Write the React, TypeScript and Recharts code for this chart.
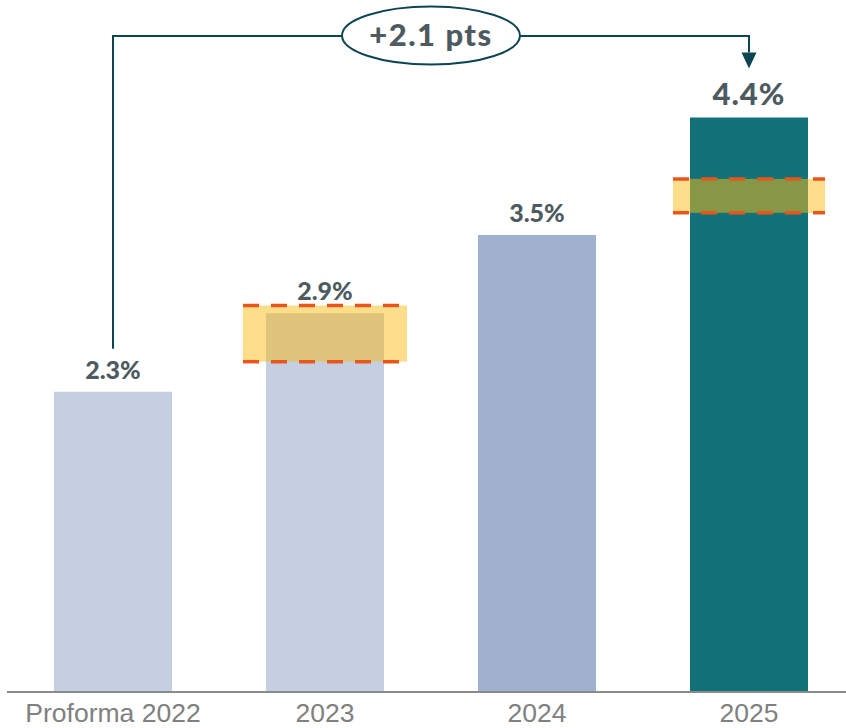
import { BarChart, Bar, XAxis, YAxis, Cell, LabelList, ReferenceArea, ReferenceLine } from 'recharts';

const categories = ['Proforma 2022', '2023', '2024', '2025'];
const values = [2.3, 2.9, 3.5, 4.4];
const barColors = ['#c5cfe1', '#c5cfe1', '#9fb1cf', '#137277'];
const labelSizes = [25, 25, 25, 31];

// target ranges shown as dashed bands
const bandCats = ['2023', '2025'];
const bandLow = [2.53, 3.67];
const bandHigh = [2.96, 3.93];
const bandInset = [24, 30];

const deltaFrom = { cat: 'Proforma 2022', value: 2.3 };
const deltaTo = { cat: '2025', value: 4.4 };
const deltaLabel = '+2.1 pts';

const data = categories.map((c, i) => ({ name: c, value: values[i], size: labelSizes[i] }));

const ink = '#0e4552';
const labelInk = '#4d5b60';

function bandShape(inset: number) {
  return (p: any) => {
    const x = p.x + inset, w = p.width - inset * 2;
    return (
      <g>
        <rect x={x} y={p.y} width={w} height={p.height} fill="#f9bb15" fillOpacity={0.5} />
        <line x1={x} x2={x + w} y1={p.y} y2={p.y} stroke="#e8561c" strokeWidth={3.5} strokeDasharray="16 12" />
        <line x1={x} x2={x + w} y1={p.y + p.height} y2={p.y + p.height} stroke="#e8561c" strokeWidth={3.5} strokeDasharray="16 12" />
      </g>
    );
  };
}

function ValueLabel(p: any) {
  const i = values.indexOf(Number(p.value));
  const size = labelSizes[i] ?? 25;
  return (
    <text x={p.x + p.width / 2} y={p.y - 13} textAnchor="middle" fill={labelInk} fontSize={size} fontWeight={900}
      fontFamily="Lato, sans-serif" letterSpacing={size > 26 ? 1 : 0}>
      {`${Number(p.value).toFixed(1)}%`}
    </text>
  );
}

function Bracket(p: any) {
  const top = 36;
  const { x1, y1, x2, y2 } = p;
  const cx = (x1 + x2) / 2;
  const tip = y2 - 49;
  return (
    <g>
      <path d={`M${x1},${y1 - 43} V${top} H${x2} V${tip - 16}`} fill="none" stroke={ink} strokeWidth={2} />
      <path d={`M${x2 - 7.5},${tip - 16} L${x2 + 7.5},${tip - 16} L${x2},${tip} Z`} fill={ink} />
      <ellipse cx={cx} cy={top - 0.5} rx={89} ry={29} fill="#fff" stroke={ink} strokeWidth={2} />
      <text x={cx} y={top + 10} textAnchor="middle" fill={labelInk} fontSize={31} fontWeight={900} fontFamily="Lato, sans-serif" letterSpacing={1.5}>
        {deltaLabel}
      </text>
    </g>
  );
}

export default function App() {
  return (
    <div style={{ position: 'absolute', left: 0, top: 0, width: 846, height: 728, overflow: 'hidden', background: '#fff' }}>
      <BarChart width={856} height={728} data={data} margin={{ top: 0, right: 1, bottom: 0, left: 7 }}>
        <XAxis dataKey="name" height={36} tickLine={false} axisLine={{ stroke: '#8a8a8a', strokeWidth: 2 }} tickMargin={5}
          tick={{ fill: '#808080', fontSize: 26.5, fontFamily: '"Liberation Sans", Arial, sans-serif' }} interval={0} />
        <YAxis hide domain={[0, 5.3]} />
        <Bar dataKey="value" barSize={118} isAnimationActive={false}>
          {data.map((d, i) => <Cell key={d.name} fill={barColors[i]} />)}
          <LabelList dataKey="value" content={ValueLabel} />
        </Bar>
        {bandCats.map((c, i) => (
          <ReferenceArea key={c} x1={c} x2={c} y1={bandLow[i]} y2={bandHigh[i]} zIndex={600} shape={bandShape(bandInset[i])} />
        ))}
        <ReferenceLine segment={[{ x: deltaFrom.cat, y: deltaFrom.value }, { x: deltaTo.cat, y: deltaTo.value }]} shape={Bracket} />
      </BarChart>
    </div>
  );
}
